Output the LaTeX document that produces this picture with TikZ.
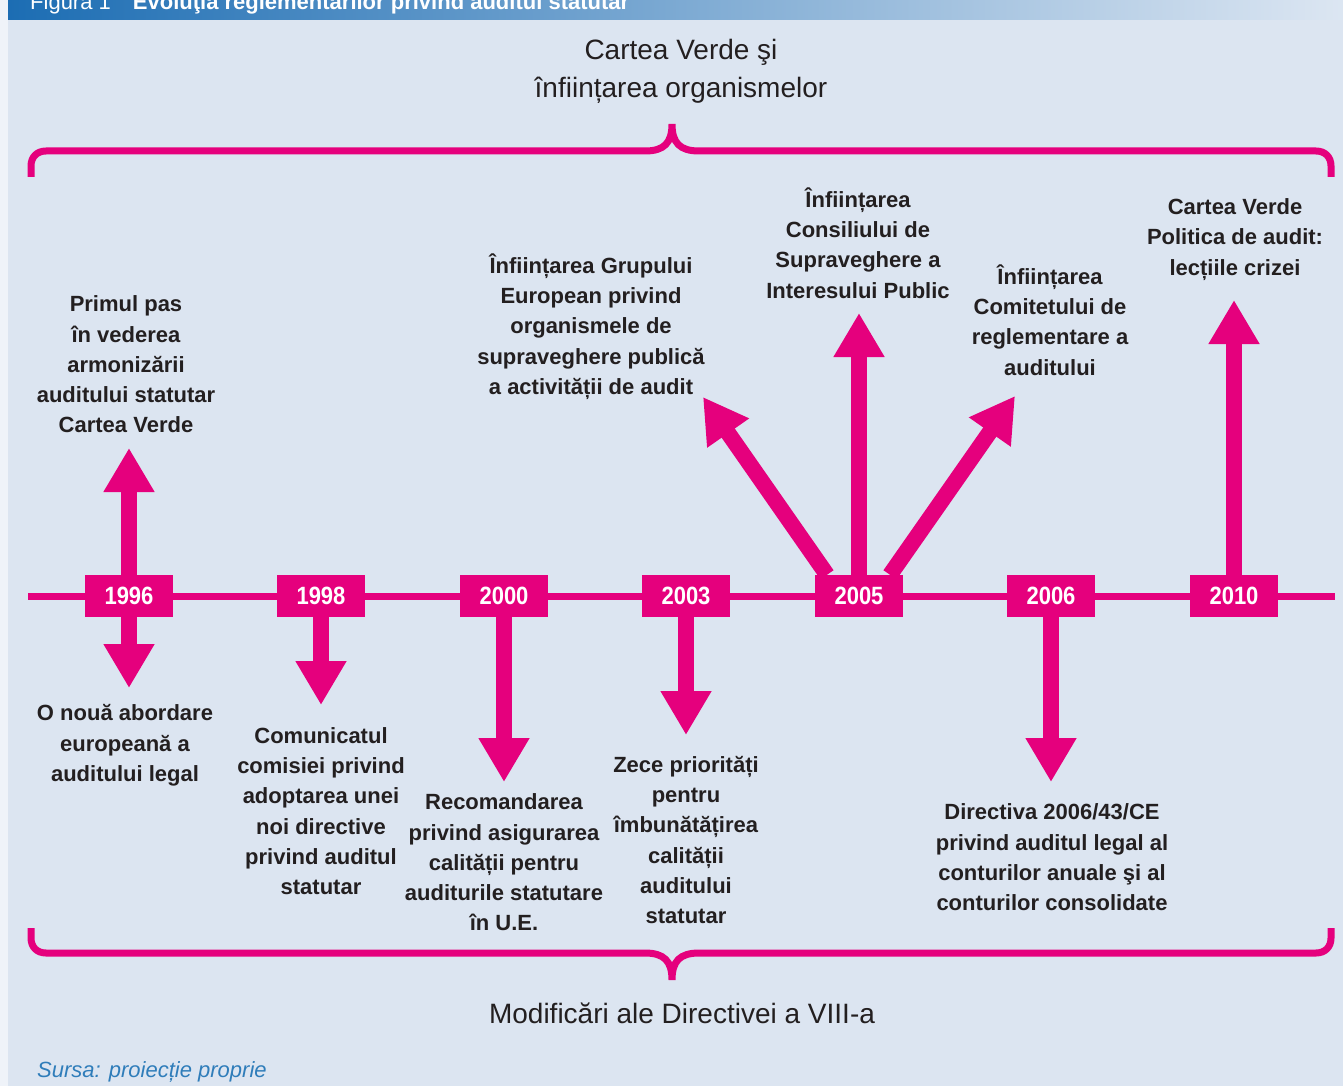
\documentclass[tikz,border=0pt]{standalone}
\usepackage{fontspec}
\setmainfont{Liberation Sans}
\newfontfamily\yearfont[FakeStretch=0.88]{Liberation Sans}
\usetikzlibrary{arrows.meta}
\definecolor{mag}{HTML}{E5007D}
\definecolor{bg}{HTML}{DCE5F1}
\definecolor{txt}{HTML}{231F20}
\definecolor{hdark}{HTML}{1C6DB3}
\definecolor{hmid}{HTML}{8DB9DF}
\definecolor{hlight}{HTML}{DCE6F2}
\definecolor{src}{HTML}{2F7DBA}
\begin{document}
\begin{tikzpicture}[x=1pt,y=-1pt,
  ann/.style={font=\fontsize{22}{30.3}\selectfont\bfseries, text=txt, align=center, inner sep=0pt},
  yearbox/.style={fill=mag, minimum width=88pt, minimum height=42pt, inner sep=0pt, text=white, font=\yearfont\fontsize{25}{25}\selectfont\bfseries},
  bigarrow/.style={draw=mag, line width=16pt, -{Triangle[width=48pt,length=44pt]}},
  brace/.style={draw=mag, line width=7pt},
  title/.style={font=\fontsize{28}{38}\selectfont, text=txt, align=center, inner sep=0pt}]
\useasboundingbox (0,0) rectangle (1343,1086);
% background
\fill[bg] (0,0) rectangle (1343,1086);
\fill[white!55!bg] (0,0) rectangle (8,1086);
\shade[left color=hdark, middle color=hmid, right color=hlight] (8,0) rectangle (1343,20);
\begin{scope}
  \clip (8,0) rectangle (1343,20);
  \node[anchor=base west, text=white, font=\fontsize{22}{22}\selectfont, inner sep=0pt] (hdr) at (30,10) {Figura 1\quad\textbf{Evoluţia reglementărilor privind auditul statutar}};
\end{scope}

% titles
\node[title] (toptitle) at (681,71) {Cartea Verde şi\\înființarea organismelor};
\node[title] (bottitle) at (682,1013) {Modificări ale Directivei a VIII-a};
\node[anchor=base west, inner sep=0pt, text=src, font=\fontsize{22}{22}\selectfont\itshape] (source) at (37,1077) {Sursa: proiecție proprie};

% braces
\draw[brace] (31,177) -- (31,166) .. controls (31,157) and (37,151) .. (46,151) -- (645,151)
  .. controls (664,151) and (672,143) .. (672,124)
  .. controls (672,143) and (680,151) .. (699,151)
  -- (1316,151) .. controls (1325,151) and (1331,157) .. (1331,166) -- (1331,177);
\draw[brace] (31,928) -- (31,938) .. controls (31,947) and (37,953) .. (46,953) -- (645,953)
  .. controls (664,953) and (672,961) .. (672,980)
  .. controls (672,961) and (680,953) .. (699,953)
  -- (1316,953) .. controls (1325,953) and (1331,947) .. (1331,938) -- (1331,928);

% timeline
\coordinate (tl) at (28,596);
\coordinate (tr) at (1335,596);
\draw[mag, line width=7pt] (tl) -- (tr);

% year positions
\coordinate (p96) at (129,596);
\coordinate (p98) at (321,596);
\coordinate (p00) at (504,596);
\coordinate (p03) at (686,596);
\coordinate (p05) at (859,596);
\coordinate (p06) at (1051,596);
\coordinate (p10) at (1234,596);

% arrow tips
\coordinate (a96u) at (129,448);
\coordinate (a96d) at (129,688);
\coordinate (a98) at (321,705);
\coordinate (a00) at (504,782);
\coordinate (a03) at (686,735);
\coordinate (a05m) at (859,313);
\coordinate (a05l) at (703,397);
\coordinate (a05r) at (1015,396);
\coordinate (a06) at (1051,782);
\coordinate (a10) at (1234,300);

% year boxes
\path (p96) node[yearbox] (y96) {1996}
      (p98) node[yearbox] (y98) {1998}
      (p00) node[yearbox] (y00) {2000}
      (p03) node[yearbox] (y03) {2003}
      (p05) node[yearbox] (y05) {2005}
      (p06) node[yearbox] (y06) {2006}
      (p10) node[yearbox] (y10) {2010};

\draw[bigarrow] (y96.north) -- (a96u);
\draw[bigarrow] (y96.south) -- (a96d);
\draw[bigarrow] (y98.south) -- (a98);
\draw[bigarrow] (y00.south) -- (a00);
\draw[bigarrow] (y03.south) -- (a03);
\draw[bigarrow] (y05.north) -- (a05m);
\draw[bigarrow] ([xshift=-32pt]y05.north) -- (a05l);
\draw[bigarrow] ([xshift=31pt]y05.north) -- (a05r);
\draw[bigarrow] (y06.south) -- (a06);
\draw[bigarrow] (y10.north) -- (a10);

% redraw boxes on top
\path (p96) node[yearbox] {1996}
      (p98) node[yearbox] {1998}
      (p00) node[yearbox] {2000}
      (p03) node[yearbox] {2003}
      (p05) node[yearbox] {2005}
      (p06) node[yearbox] {2006}
      (p10) node[yearbox] {2010};

% annotations
\node[ann] (t96u) at (126,364.5) {Primul pas\\în vederea\\armonizării\\auditului statutar\\Cartea Verde};
\node[ann] (t96d) at (125,745.5) {O nouă abordare\\europeană a\\auditului legal};
\node[ann] (t98) at (321,811) {Comunicatul\\comisiei privind\\adoptarea unei\\noi directive\\privind auditul\\statutar};
\node[ann] (t00) at (504,862.5) {Recomandarea\\privind asigurarea\\calității pentru\\auditurile statutare\\în U.E.};
\node[ann] (t03) at (686,840) {Zece priorități\\pentru\\îmbunătățirea\\calității\\auditului\\statutar};
\node[ann] (t05l) at (591,326.5) {Înființarea Grupului\\European privind\\organismele de\\supraveghere publică\\a activității de audit};
\node[ann] (t05m) at (858,243) {Înființarea\\Consiliului de\\Supraveghere a\\Interesului Public};
\node[ann] (t05r) at (1050,320) {Înființarea\\Comitetului de\\reglementare a\\auditului};
\node[ann] (t06) at (1052,857.5) {Directiva 2006/43/CE\\privind auditul legal al\\conturilor anuale şi al\\conturilor consolidate};
\node[ann] (t10) at (1235,239.5) {Cartea Verde\\Politica de audit:\\lecțiile crizei};
\end{tikzpicture}
\end{document}
